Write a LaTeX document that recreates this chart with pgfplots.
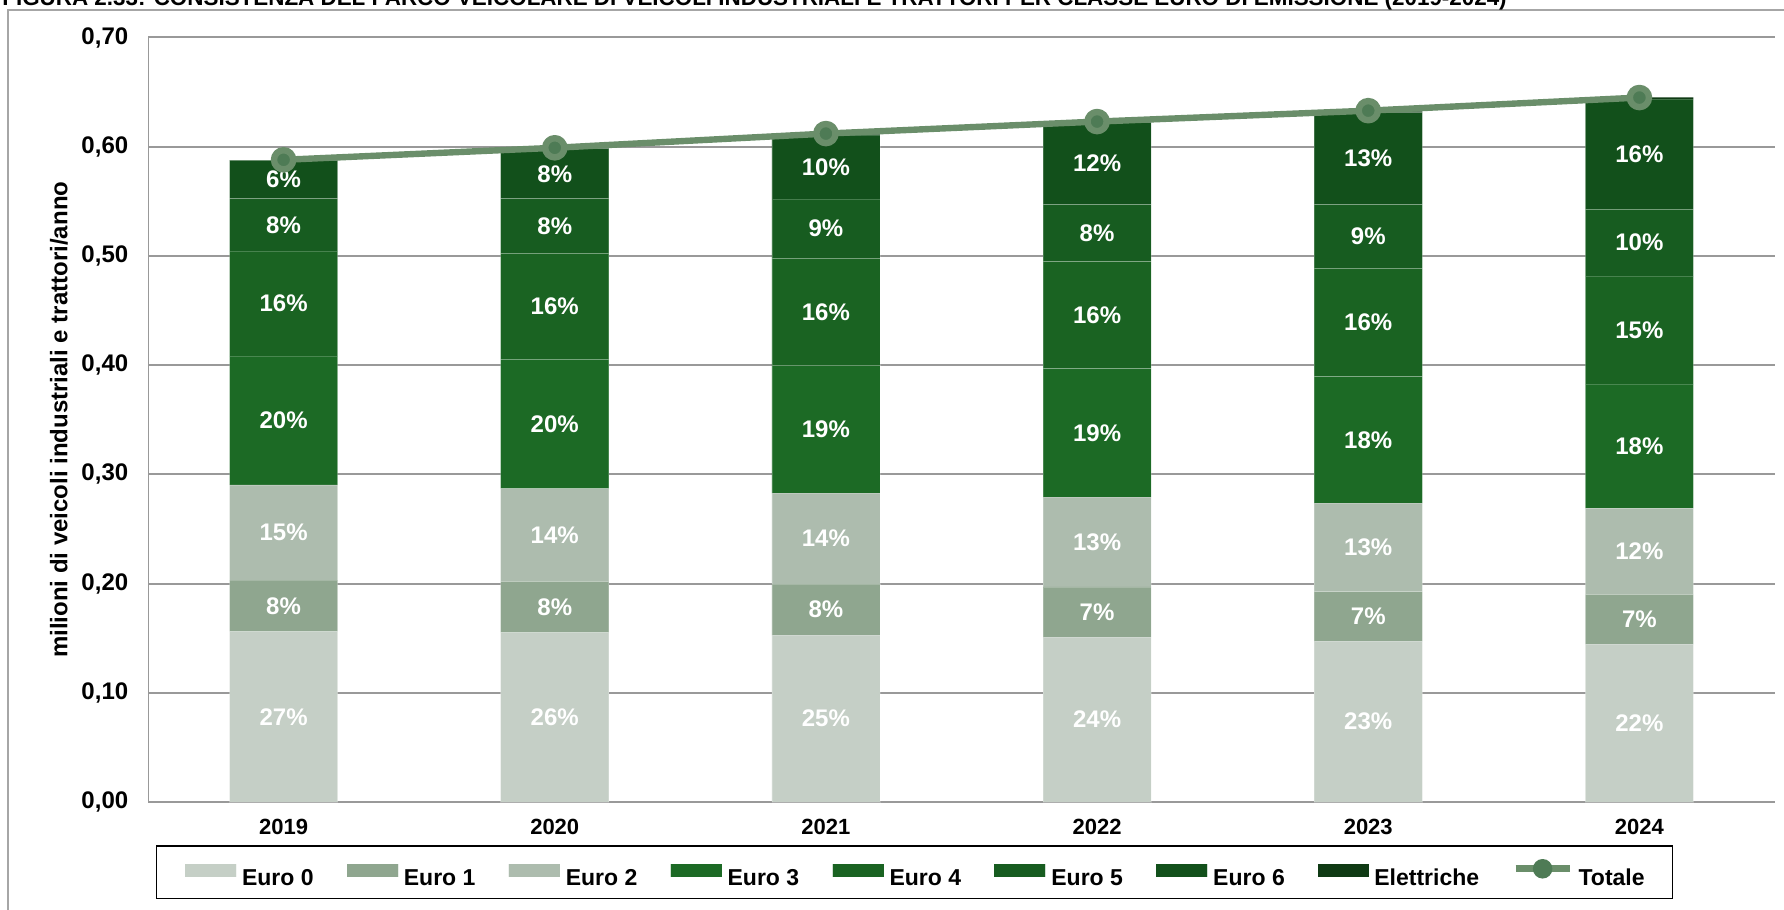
\documentclass[border=0pt]{standalone}
\usepackage{pgfplots}
\usepackage{pgfplotstable}
\usepackage{fontspec}
\setmainfont{Liberation Sans}
\pgfplotsset{compat=1.18}

\definecolor{euro0}{HTML}{C5CFC6}
\definecolor{euro1}{HTML}{8FA68F}
\definecolor{euro2}{HTML}{ADBCAE}
\definecolor{euro3}{HTML}{1C6A25}
\definecolor{euro4}{HTML}{1A6322}
\definecolor{euro5}{HTML}{175C20}
\definecolor{euro6}{HTML}{12501B}
\definecolor{elet}{HTML}{0F3A14}
\definecolor{totline}{HTML}{6A8E6A}
\definecolor{totmark}{HTML}{4E7B55}
\definecolor{gridgray}{HTML}{999999}
\definecolor{framegray}{HTML}{A6A6A6}

% milioni di veicoli per classe; l0..l6 = etichette percentuali
\pgfplotstableread{
x  e0     e1     e2     e3     e4     e5     e6     el     tot   l0 l1 l2 l3 l4 l5 l6
0  0.1561 0.0471 0.0871 0.1179 0.0963 0.0480 0.0349 0.0003 0.588 27 8  15 20 16 8  6
1  0.1550 0.0470 0.0849 0.1184 0.0971 0.0500 0.0456 0.0004 0.599 26 8  14 20 16 8  8
2  0.1527 0.0468 0.0833 0.1170 0.0980 0.0543 0.0585 0.0006 0.612 25 8  14 19 16 9  10
3  0.1510 0.0459 0.0823 0.1177 0.0979 0.0521 0.0752 0.0009 0.623 24 7  13 19 16 8  12
4  0.1473 0.0453 0.0811 0.1157 0.0991 0.0585 0.0841 0.0013 0.633 23 7  13 18 16 9  13
5  0.1445 0.0455 0.0788 0.1139 0.0989 0.0611 0.1008 0.0017 0.645 22 7  12 18 15 10 16
}\datatable

\pgfplotsset{
  swatch/.style={legend image code/.code={\fill[#1] (0pt,0pt) rectangle (25.5pt,6.3pt);}},
  seg/.style={
    fill=#1, draw=white, draw opacity=0.2, line width=0.4pt,
    point meta=explicit symbolic,
    nodes near coords={\pgfplotspointmeta\%},
    every node near coord/.append style={anchor=center},
    swatch=#1,
  },
}

\begin{document}
\begin{tikzpicture}
\draw[framegray, line width=1pt] (4pt,-10pt) -- (4pt,450pt) -- (900pt,450pt);
\node[anchor=base west, inner sep=0pt, font=\bfseries\fontsize{11.2}{12}\selectfont]
  at (1pt,452pt) {FIGURA 2.33: CONSISTENZA DEL PARCO VEICOLARE DI VEICOLI INDUSTRIALI E TRATTORI PER CLASSE EURO DI EMISSIONE (2019-2024)};

\begin{axis}[
    at={(74pt,54pt)}, anchor=south west,
    scale only axis, width=813.5pt, height=382.25pt,
    ybar stacked, bar width=54pt,
    xmin=-0.5, xmax=5.5, ymin=0, ymax=0.7,
    clip=false,
    xtick={0,1,2,3,4,5},
    xticklabels={2019,2020,2021,2022,2023,2024},
    ytick={0,0.1,0.2,0.3,0.4,0.5,0.6,0.7},
    /pgf/number format/fixed,
    /pgf/number format/fixed zerofill,
    /pgf/number format/precision=2,
    /pgf/number format/use comma,
    /pgf/number format/assume math mode=true,
    major tick length=0pt,
    yticklabel style={inner sep=0pt, xshift=-9.7pt, font=\bfseries\fontsize{12}{14}\selectfont},
    xticklabel style={inner sep=0pt, yshift=-8.5pt, font=\bfseries\fontsize{11}{13}\selectfont},
    ylabel={milioni di veicoli industriali e trattori/anno},
    ylabel style={at={(axis description cs:-0.0547,0.5)}, anchor=center,
      font=\bfseries\fontsize{12}{14}\selectfont},
    ymajorgrids,
    major grid style={draw=gridgray, line width=1pt},
    axis x line*=bottom, axis y line*=left,
    axis line style={-},
    x axis line style={draw=gridgray, line width=1pt},
    y axis line style={draw=gridgray, line width=0.5pt},
    every node near coord/.append style={font=\bfseries\fontsize{12}{12}\selectfont, text=white},
    legend columns=9,
    legend cell align=left,
    legend style={at={(axis description cs:0.0049,-0.1269)}, anchor=south west,
      draw=black, line width=0.75pt, inner xsep=14pt, inner ysep=6.6pt,
      font=\bfseries\fontsize{11.5}{13}\selectfont,
      nodes={inner sep=0pt, text height=8.3pt, text depth=0pt},
      /tikz/every odd column/.append style={column sep=2.75pt},
      /tikz/every even column/.append style={column sep=16.5pt}},
]
\addplot[seg=euro0] table[x=x, y=e0, meta=l0] {\datatable};
\addlegendentry{Euro 0}
\addplot[seg=euro1] table[x=x, y=e1, meta=l1] {\datatable};
\addlegendentry{Euro 1}
\addplot[seg=euro2] table[x=x, y=e2, meta=l2] {\datatable};
\addlegendentry{Euro 2}
\addplot[seg=euro3] table[x=x, y=e3, meta=l3] {\datatable};
\addlegendentry{Euro 3}
\addplot[seg=euro4] table[x=x, y=e4, meta=l4] {\datatable};
\addlegendentry{Euro 4}
\addplot[seg=euro5] table[x=x, y=e5, meta=l5] {\datatable};
\addlegendentry{Euro 5}
\addplot[seg=euro6] table[x=x, y=e6, meta=l6] {\datatable};
\addlegendentry{Euro 6}
\addplot[fill=elet, draw=none, swatch=elet] table[x=x, y=el] {\datatable};
\addlegendentry{Elettriche}
\addlegendimage{legend image code/.code={
  \draw[totline, line width=3.5pt] (0pt,4pt) -- (27pt,4pt);
  \fill[totmark] (13.5pt,4pt) circle (4.5pt);}}
\addlegendentry{Totale}
\end{axis}

\begin{axis}[
    at={(74pt,54pt)}, anchor=south west,
    scale only axis, width=813.5pt, height=382.25pt,
    xmin=-0.5, xmax=5.5, ymin=0, ymax=0.7,
    hide axis, clip=false,
]
\addplot[color=totline, line width=3.2pt, line join=round, mark=*, mark size=4.8pt,
  mark options={draw=none, fill=totmark}] table[x=x, y=tot] {\datatable};
\end{axis}

\pgfresetboundingbox
\path[use as bounding box] (0pt,0pt) rectangle (892pt,455pt);
\end{tikzpicture}
\end{document}
